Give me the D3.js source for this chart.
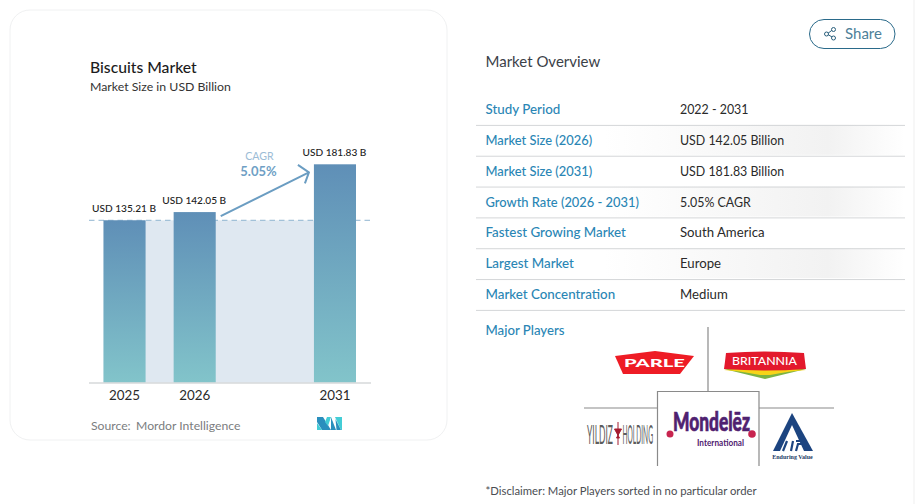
<!DOCTYPE html>
<html>
<head>
<meta charset="utf-8">
<script src="https://cdnjs.cloudflare.com/ajax/libs/d3/7.8.5/d3.min.js"></script>
<style>
  html, body { margin: 0; padding: 0; background: #fff; overflow: hidden; }
  svg { display: block; }
  text { font-family: Lato, "Open Sans", sans-serif; }
</style>
</head>
<body>
<svg id="page" width="917" height="504"></svg>
<script>
// ------------------------------------------------------
// DATA
// ------------------------------------------------------
var slots = ['2025', '2026', 'gap', '2031'];
var years = ['2025', '2026', '2031'];
var values = [135.21, 142.05, 181.83];
var valueLabels = ['USD 135.21 B', 'USD 142.05 B', 'USD 181.83 B'];
var rowLabels = ['Study Period', 'Market Size (2026)', 'Market Size (2031)', 'Growth Rate (2026 - 2031)', 'Fastest Growing Market', 'Largest Market', 'Market Concentration'];
var rowValues = ['2022 - 2031', 'USD 142.05 Billion', 'USD 181.83 Billion', '5.05% CAGR', 'South America', 'Europe', 'Medium'];

var svg = d3.select('#page');
var defs = svg.append('defs');

var barGrad = defs.append('linearGradient').attr('id', 'barGrad').attr('x1', 0).attr('x2', 0).attr('y1', 0).attr('y2', 1);
barGrad.append('stop').attr('offset', '0%').attr('stop-color', '#5f8fb7');
barGrad.append('stop').attr('offset', '100%').attr('stop-color', '#82c4ca');

var rowGrad = defs.append('linearGradient').attr('id', 'rowGrad');
rowGrad.append('stop').attr('offset', '30%').attr('stop-color', '#fff');
rowGrad.append('stop').attr('offset', '82%').attr('stop-color', '#f2f2f2');
rowGrad.append('stop').attr('offset', '100%').attr('stop-color', '#fff');

// faint scrollbar edge on the right of the page
svg.append('line').attr('x1', 914).attr('x2', 914).attr('y1', 0).attr('y2', 504).attr('stroke', '#efefef');

// ------------------------------------------------------
// CARD + CHART
// ------------------------------------------------------
svg.append('rect').attr('x', 10).attr('y', 10).attr('width', 437).attr('height', 430).attr('rx', 20)
    .attr('fill', '#fff').attr('stroke', '#f0f1f2');

svg.append('text').attr('x', 90).attr('y', 73).attr('font-size', 15.7).attr('font-weight', 500).attr('fill', '#1c1c1c').text('Biscuits Market');
svg.append('text').attr('x', 90).attr('y', 91).attr('font-size', 12.3).attr('fill', '#333').text('Market Size in USD Billion');

var x = d3.scaleBand().domain(slots).range([103.5, 356]).paddingInner(0.4);
var y = d3.scaleLinear().domain([0, 181.83]).range([382.7, 164.3]);
var bw = x.bandwidth();

// shaded band from the first bar across to the last, at first value
svg.append('rect')
    .attr('x', x('2025')).attr('y', y(values[0]))
    .attr('width', x('2031') - x('2025')).attr('height', y(0) - y(values[0]))
    .attr('fill', '#dfe8f1');

svg.append('line')
    .attr('x1', 89).attr('x2', 373).attr('y1', y(values[0])).attr('y2', y(values[0]))
    .attr('stroke', '#8fb4d0').attr('stroke-width', 1).attr('stroke-dasharray', '5.5 4');

svg.selectAll('.bar').data(values).enter().append('rect')
    .attr('class', 'bar')
    .attr('x', function (d, i) { return x(years[i]); })
    .attr('y', function (d) { return y(d); })
    .attr('width', bw)
    .attr('height', function (d) { return y(0) - y(d); })
    .attr('fill', 'url(#barGrad)');

svg.append('line').attr('x1', 89).attr('x2', 371).attr('y1', y(0) + 0.3).attr('y2', y(0) + 0.3)
    .attr('stroke', '#d6d8da').attr('stroke-width', 1.5);

svg.selectAll('.valueLabel').data(valueLabels).enter().append('text')
    .attr('class', 'valueLabel')
    .attr('x', function (d, i) { return x(years[i]) + bw / 2 - 0.5; })
    .attr('y', function (d, i) { return y(values[i]) - 8; })
    .attr('text-anchor', 'middle').attr('font-size', 10.1).attr('font-weight', 500).attr('fill', '#222')
    .text(function (d) { return d; });

svg.selectAll('.yearLabel').data(years).enter().append('text')
    .attr('class', 'yearLabel')
    .attr('x', function (d) { return x(d) + bw / 2; })
    .attr('y', 399.5)
    .attr('text-anchor', 'middle').attr('font-size', 13.4).attr('fill', '#2a2a2a')
    .text(function (d) { return d; });

// CAGR arrow
var ax0 = x('2026') + bw + 5, ay0 = y(values[1]) + 4;
var ax1 = x('2031') - 5, ay1 = y(values[2]) + 8;
svg.append('path')
    .attr('d', 'M' + ax0 + ',' + ay0 + 'L' + ax1 + ',' + ay1 + 'M' + (ax1 - 11) + ',' + (ay1 - 7.5) + 'L' + ax1 + ',' + ay1 + 'L' + (ax1 - 4) + ',' + (ay1 + 11))
    .attr('fill', 'none').attr('stroke', '#6b9dc2').attr('stroke-width', 2);
svg.append('text').attr('x', 259.5).attr('y', 160).attr('text-anchor', 'middle').attr('font-size', 10.6).attr('fill', '#9bbcd6').text('CAGR');
svg.append('text').attr('x', 258.5).attr('y', 176).attr('text-anchor', 'middle').attr('font-size', 13).attr('font-weight', 700).attr('fill', '#6f9fc5').text('5.05%');

svg.append('text').attr('x', 91).attr('y', 430).attr('font-size', 12.2).attr('fill', '#7b7d80').text('Source:');
svg.append('text').attr('x', 136).attr('y', 430).attr('font-size', 12.2).attr('fill', '#7b7d80').text('Mordor Intelligence');

// MI logo
var mi = svg.append('g').attr('transform', 'translate(317,417)');
mi.append('path').attr('d', 'M0,0H6L14,13H5L0,5Z').attr('fill', '#2a8fbd');
mi.append('path').attr('d', 'M0,6L5,13H0Z').attr('fill', '#43cdd6');
mi.append('path').attr('d', 'M8,5L10,0H14L11,9Z').attr('fill', '#43cdd6');
mi.append('path').attr('d', 'M14,0L19,13H14Z').attr('fill', '#2a8fbd');
mi.append('path').attr('d', 'M18,0H25V13H24Z').attr('fill', '#43cdd6');
mi.append('path').attr('d', 'M18.5,2L24,13H19.5Z').attr('fill', '#2a8fbd');

// ------------------------------------------------------
// SHARE BUTTON + TABLE
// ------------------------------------------------------
svg.append('rect').attr('x', 809.5).attr('y', 19.5).attr('width', 85.5).attr('height', 29).attr('rx', 14.5)
    .attr('fill', '#fff').attr('stroke', '#2a6a8a').attr('stroke-width', 1);
var share = svg.append('g').attr('stroke', '#2a5f7c').attr('fill', '#fff').attr('stroke-width', 1);
share.append('path').attr('d', 'M827,34L833,29.5M827,34L833,37.5').attr('fill', 'none');
share.append('circle').attr('cx', 826.5).attr('cy', 34).attr('r', 2);
share.append('circle').attr('cx', 833.5).attr('cy', 29.5).attr('r', 2);
share.append('circle').attr('cx', 833.5).attr('cy', 38).attr('r', 2);
svg.append('text').attr('x', 845).attr('y', 39).attr('font-size', 15).attr('fill', '#4d7f99').text('Share');

svg.append('text').attr('x', 485.5).attr('y', 67).attr('font-size', 15).attr('fill', '#3b4148').text('Market Overview');

var rowY = d3.scalePoint().domain(rowLabels).range([109, 294]);

svg.selectAll('.rowBg').data(rowLabels).enter().filter(function (d, i) { return i % 2 === 1; }).append('rect')
    .attr('class', 'rowBg').attr('x', 476).attr('width', 429)
    .attr('y', function (d) { return rowY(d) - 15; }).attr('height', 30)
    .attr('fill', 'url(#rowGrad)');

svg.selectAll('.rowLine').data(rowLabels).enter().append('line')
    .attr('class', 'rowLine').attr('x1', 476).attr('x2', 905)
    .attr('y1', function (d) { return rowY(d) + 16.4; }).attr('y2', function (d) { return rowY(d) + 16.4; })
    .attr('stroke', '#d4d6d8').attr('stroke-width', 1);

// Lato's digits run wide against the reference's, words run narrow
svg.selectAll('.rowLabel').data(rowLabels).enter().append('text')
    .attr('class', 'rowLabel').attr('x', 485.5)
    .attr('y', function (d) { return rowY(d) + 5; })
    .attr('font-size', function (d) { return /\d/.test(d) ? 12.9 : 13.35; })
    .attr('font-weight', 500).attr('fill', '#2a86b5')
    .text(function (d) { return d; });

svg.selectAll('.rowValue').data(rowValues).enter().append('text')
    .attr('class', 'rowValue').attr('x', 680)
    .attr('y', function (d, i) { return rowY(rowLabels[i]) + 5; })
    .attr('font-size', function (d) { return /\d\d/.test(d) ? 12.4 : 13.2; })
    .attr('fill', '#2a2a2a')
    .text(function (d) { return d; });

svg.append('text').attr('x', 485.5).attr('y', 335).attr('font-size', 13.2).attr('font-weight', 500).attr('fill', '#2a86b5').text('Major Players');

// ------------------------------------------------------
// MAJOR PLAYERS
// ------------------------------------------------------
svg.append('path')
    .attr('d', 'M708,327V391M584,408H657M759,408H834M657.5,466V391.5H759V466')
    .attr('fill', 'none').attr('stroke', '#8a8a8a').attr('stroke-width', 1.2);

// squeeze a text to a set width by scaling it, the logos are condensed
function logoText(str, left, baseline, size, width, weight, color) {
    var t = svg.append('text').attr('font-size', size).attr('font-weight', weight).attr('fill', color).text(str);
    var k = width / t.node().getComputedTextLength();
    t.attr('transform', 'translate(' + left + ',' + baseline + ') scale(' + k + ',1)');
    return t;
}

// parle
svg.append('path').attr('d', 'M615,356L655,351L694,356L680,374H623Z').attr('fill', '#ee1c25');
logoText('PARLE', 624, 367, 12, 61, 900, '#fff');

// britannia
svg.append('path').attr('d', 'M724,369Q765,366 806,369L765,379Z').attr('fill', '#7cb342');
svg.append('path').attr('d', 'M724,370Q765,366 806,370Q790,371 770,375H760Q740,371 724,370Z').attr('fill', '#f7d417');
svg.append('path').attr('d', 'M726,353Q765,350 804,353Q805,362 806,369Q765,372 724,369Q725,362 726,353Z').attr('fill', '#e3192c');
logoText('BRITANNIA', 732, 365, 11, 65, 500, '#fff');

// yildiz
logoText('YILDIZ', 587, 444, 27, 26, 400, '#5c5c5c');
svg.append('path').attr('d', 'M618,422V445M614.5,429H621.5L616.5,438H619.5Z').attr('fill', '#a51c30').attr('stroke', '#a51c30').attr('stroke-width', 1);
logoText('HOLDING', 622.5, 444, 27, 30.5, 400, '#5c5c5c');

// mondelez
logoText('Mondelēz', 673, 431, 26, 77, 900, '#4f2170').attr('stroke', '#4f2170').attr('stroke-width', 0.7);
logoText('International', 697, 445.5, 9, 47, 700, '#4f2170');
svg.append('circle').attr('cx', 670).attr('cy', 434).attr('r', 3.5).attr('fill', '#c8244f');
svg.append('circle').attr('cx', 752).attr('cy', 434).attr('r', 3.8).attr('fill', '#c8244f');

// itc
svg.append('path').attr('d', 'M792,413L813,451H773Z').attr('fill', '#1c4480');
svg.append('path').attr('d', 'M792,425L804,451H780Z').attr('fill', '#fff');
svg.append('path').attr('d', 'M787,441L783,451M793,441L791,451M796,441H803L801,444H798L796,451').attr('fill', 'none').attr('stroke', '#1c4480').attr('stroke-width', 2.2);
svg.append('text').attr('x', 792.5).attr('y', 459).attr('text-anchor', 'middle').attr('font-size', 6).attr('font-weight', 700)
    .attr('fill', '#1c3c66').style('font-family', '"Liberation Serif", serif').text('Enduring Value');

svg.append('text').attr('x', 485.5).attr('y', 495).attr('font-size', 11.3).attr('fill', '#4a4d52').text('*Disclaimer: Major Players sorted in no particular order');
</script>
</body>
</html>
